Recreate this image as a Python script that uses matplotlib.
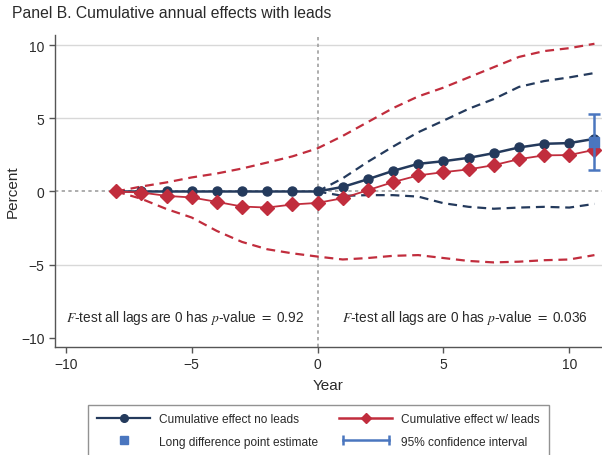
import matplotlib
matplotlib.use("Agg")
import matplotlib.pyplot as plt
from matplotlib.lines import Line2D
from matplotlib.legend_handler import HandlerLine2D

plt.rcParams['font.family'] = ['Liberation Sans', 'DejaVu Sans']
plt.rcParams['mathtext.fontset'] = 'stix'
plt.rcParams['axes.unicode_minus'] = True

# ---- data ----
years = list(range(-8, 12))
no_leads = [0, 0, 0, 0, 0, 0, 0, 0, 0,
            0.31, 0.84, 1.41, 1.89, 2.07, 2.30, 2.62, 3.01, 3.26, 3.31, 3.60]
with_leads = [0, -0.07, -0.30, -0.41, -0.71, -1.03, -1.10, -0.89, -0.78,
              -0.46, 0.09, 0.64, 1.10, 1.32, 1.51, 1.80, 2.21, 2.47, 2.49, 2.85]

ci_years_no = list(range(0, 12))
no_leads_hi = [0, 0.9, 2.03, 3.07, 4.05, 4.84, 5.65, 6.32, 7.15, 7.55, 7.8, 8.1]
no_leads_lo = [0, -0.3, -0.25, -0.25, -0.35, -0.8, -1.05, -1.18, -1.1, -1.05, -1.1, -0.85]

with_leads_hi = [0, 0.34, 0.62, 0.96, 1.23, 1.57, 1.98, 2.4, 2.95,
                 3.8, 4.75, 5.7, 6.5, 7.1, 7.8, 8.5, 9.2, 9.6, 9.8, 10.1]
with_leads_lo = [0, -0.5, -1.2, -1.78, -2.7, -3.45, -3.95, -4.23, -4.45,
                 -4.65, -4.55, -4.4, -4.35, -4.55, -4.75, -4.85, -4.8, -4.7, -4.65, -4.35]

ld_year = 11
ld_est = 3.38
ld_lo = 1.44
ld_hi = 5.32

xticks = [-10, -5, 0, 5, 10]
yticks = [-10, -5, 0, 5, 10]

navy = '#243a5c'
red = '#c12d3d'
blue = '#4a76bf'
axc = '#555555'
txt = '#2a2a2a'

fig = plt.figure(figsize=(6.02, 4.56), dpi=100)
ax = fig.add_axes([55/602, 1-347.5/456, 547/602, (347.5-36)/456])

ax.set_xlim(-10.43, 11.3)
ax.set_ylim(-10.6, 10.7)

# grid
for yv in [-5, 5, 10]:
    ax.axhline(yv, color='#d8d8d8', lw=1.0, zorder=0)
ax.axhline(0, color='#a0a0a0', lw=1.2, ls=(0, (2, 2)), zorder=1)
ax.axvline(0, color='#a0a0a0', lw=1.2, ls=(0, (2, 2)), zorder=1)

dash = (0, (4, 2.6))
ax.plot(years, with_leads_hi, color=red, lw=1.6, ls=dash, zorder=2)
ax.plot(years, with_leads_lo, color=red, lw=1.6, ls=dash, zorder=2)
ax.plot(ci_years_no, no_leads_hi, color=navy, lw=1.6, ls=dash, zorder=2)
ax.plot(ci_years_no, no_leads_lo, color=navy, lw=1.6, ls=dash, zorder=2)

ax.plot(years, no_leads, color=navy, lw=1.8, marker='o', ms=6.5, zorder=3)
ax.plot(years, with_leads, color=red, lw=1.3, marker='D', ms=6.8, zorder=4)

ax.errorbar([ld_year], [ld_est], yerr=[[ld_est-ld_lo], [ld_hi-ld_est]],
            fmt='none', ecolor=blue, elinewidth=1.8, capsize=4.5, capthick=1.8, zorder=5)
ax.plot([ld_year], [ld_est], ls='none', marker='s', ms=6.5, color=blue, zorder=6)

# spines / ticks
for s in ['top', 'right']:
    ax.spines[s].set_visible(False)
for s in ['left', 'bottom']:
    ax.spines[s].set_color(axc)
    ax.spines[s].set_linewidth(1.0)
ax.set_xticks(xticks)
ax.set_yticks(yticks)
ax.tick_params(axis='both', colors=axc, length=4, width=1.0, labelsize=10, labelcolor=txt)
ax.set_xlabel('Year', fontsize=11, color=txt, labelpad=5)
ax.set_ylabel('Percent', fontsize=11, color=txt)
ax.yaxis.set_label_coords((20-55)/547, 0.5)

ax.text(-10, -8.55, r'$F$-test all lags are 0 has $p$-value $=$ 0.92',
        fontsize=9.85, color=txt, ha='left', va='center')
ax.text(10.73, -8.55, r'$F$-test all lags are 0 has $p$-value $=$ 0.036',
        fontsize=9.85, color=txt, ha='right', va='center')

fig.text(12/602, 1-13/456, 'Panel B. Cumulative annual effects with leads',
         fontsize=11.35, color=txt, ha='left', va='center')

# legend
h1 = Line2D([], [], color=navy, lw=1.6, marker='o', ms=5.5)
h2 = Line2D([], [], color=red, lw=1.8, marker='D', ms=5.5)
h3 = Line2D([], [], color=blue, ls='none', marker='s', ms=6)
h4 = Line2D([], [], color=blue, lw=1.8, marker='|', ms=7, mew=1.8)
leg = fig.legend([h1, h3, h2, h4],
                 ['Cumulative effect no leads', 'Long difference point estimate',
                  'Cumulative effect w/ leads', '95% confidence interval'],
                 ncol=2, loc='upper left',
                 bbox_to_anchor=(88/602, 1-405.5/456, (549-88)/602, 0.0),
                 mode='expand', fontsize=8.6, frameon=True, fancybox=False,
                 handlelength=4.45, handletextpad=0.75, labelspacing=0.85,
                 borderpad=0.75, borderaxespad=0,
                 handler_map={h4: HandlerLine2D(numpoints=2)})
leg.get_frame().set_edgecolor('#777777')
leg.get_frame().set_linewidth(1.0)
for t in leg.get_texts():
    t.set_color(txt)

fig.savefig('out.png', dpi=100)
